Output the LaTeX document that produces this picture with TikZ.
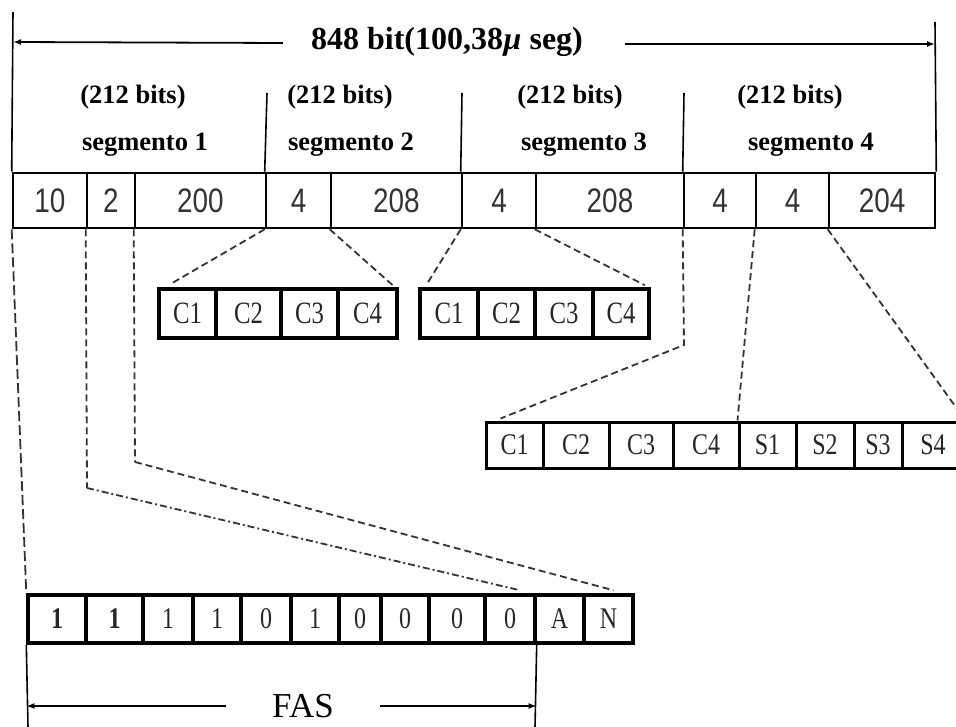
\documentclass[tikz,border=0pt]{standalone}
\usepackage{fontspec}
\setmainfont{Liberation Serif}
\newfontfamily\cellfont[FakeStretch=0.82]{Liberation Sans}
\newfontfamily\cfont[FakeStretch=0.8]{Liberation Serif}
\usetikzlibrary{arrows.meta,calc}
\newcommand\mkcell[6]{\node[#1, minimum width={(#4-#3)*1pt}] (#2) at ({(#3+#4)/2},#5) {#6};}
\begin{document}
\begin{tikzpicture}[x=1pt,y=-1pt,
  mrow/.style={draw, line width=2.6pt, minimum height=55pt, inner sep=0pt, font=\cellfont\fontsize{34}{34}\selectfont, text=black!80},
  cbox/.style={draw, line width=3.6pt, minimum height=49pt, inner sep=0pt, font=\cfont\fontsize{31}{31}\selectfont, text=black!85},
  drow/.style={draw, line width=3pt, minimum height=46pt, inner sep=0pt, font=\cfont\fontsize{30}{30}\selectfont, text=black!85},
  frow/.style={draw, line width=3.4pt, minimum height=48pt, inner sep=0pt, font=\cfont\fontsize{30}{30}\selectfont, text=black!85},
  lbl/.style={inner sep=0pt, font=\bfseries\fontsize{26.5}{26.5}\selectfont},
  thin/.style={line width=1.6pt},
  arr/.style={line width=1.8pt, -{Latex[length=8pt,width=6pt]}},
  dsh/.style={line width=1.8pt, dash pattern=on 7pt off 4pt, black!80},
  ddot/.style={line width=1.8pt, dash pattern=on 7pt off 3pt on 2pt off 3pt, black!80}]
\useasboundingbox (0,0) rectangle (956,727);

% main row
\mkcell{mrow}{m1}{13}{87}{200.5}{10}
\mkcell{mrow}{m2}{87}{135}{200.5}{2}
\mkcell{mrow}{m3}{135}{266}{200.5}{200}
\mkcell{mrow}{m4}{266}{331}{200.5}{4}
\mkcell{mrow}{m5}{331}{462}{200.5}{208}
\mkcell{mrow}{m6}{462}{536}{200.5}{4}
\mkcell{mrow}{m7}{536}{684}{200.5}{208}
\mkcell{mrow}{m8}{684}{756}{200.5}{4}
\mkcell{mrow}{m9}{756}{829}{200.5}{4}
\mkcell{mrow}{m10}{829}{935}{200.5}{204}

% top dimension
\coordinate (tl) at (13,12);
\coordinate (tr) at (935,22);
\draw[thin] (tl) -- (m1.north west);
\draw[thin] (tr) -- (m10.north east);
\node[inner sep=0pt, font=\bfseries\fontsize{32}{32}\selectfont] (title) at (447,42) {848 bit(100,38\textit{µ} seg)};
\draw[arr] ($(title.west)+(-28,1)$) -- (title.west -| tl) ;
\draw[arr] ($(title.east)+(42,2)$) -- ($(title.east -| tr)+(0,2)$);

% segment separators and labels
\coordinate (s1) at (267,93);
\coordinate (s2) at (462,93);
\coordinate (s3) at (684,93);
\draw[thin] (s1) -- (m4.north west);
\draw[thin] (s2) -- (m6.north west);
\draw[thin] (s3) -- (m8.north west);
\node[lbl] (b1) at (133,97) {(212 bits)};
\node[lbl] (b2) at (340,97) {(212 bits)};
\node[lbl] (b3) at (570,97) {(212 bits)};
\node[lbl] (b4) at (790,97) {(212 bits)};
\node[lbl] (g1) at (145,145) {segmento 1};
\node[lbl] (g2) at (351,145) {segmento 2};
\node[lbl] (g3) at (584,145) {segmento 3};
\node[lbl] (g4) at (811,145) {segmento 4};

% C boxes group A
\mkcell{cbox}{a1}{159}{216}{313.5}{C1}
\mkcell{cbox}{a2}{216}{281}{313.5}{C2}
\mkcell{cbox}{a3}{281}{338}{313.5}{C3}
\mkcell{cbox}{a4}{338}{397}{313.5}{C4}
% group B
\mkcell{cbox}{c1}{420}{478}{313.5}{C1}
\mkcell{cbox}{c2}{478}{535}{313.5}{C2}
\mkcell{cbox}{c3}{535}{593}{313.5}{C3}
\mkcell{cbox}{c4}{593}{649}{313.5}{C4}

\draw[dsh] (m4.south west) -- ($(a1.north west)+(13,-3)$);
\draw[dsh] (m5.south west) -- ($(a4.north east)+(-5,-1)$);
\draw[dsh] (m6.south west) -- ($(c1.north west)+(8,-2)$);
\draw[dsh] (m7.south west) -- ($(c4.north east)+(-6,-2)$);

% bottom right row
\mkcell{drow}{d1}{486}{543}{445}{C1}
\mkcell{drow}{d2}{543}{609}{445}{C2}
\mkcell{drow}{d3}{609}{673}{445}{C3}
\mkcell{drow}{d4}{673}{739}{445}{C4}
\mkcell{drow}{d5}{739}{796}{445}{S1}
\mkcell{drow}{d6}{796}{854}{445}{S2}
\mkcell{drow}{d7}{854}{902}{445}{S3}
\mkcell{drow}{d8}{902}{964}{445}{S4}

\coordinate (k1) at (684,345);
\draw[dsh] (m8.south west) -- (k1) -- ($(d1.north west)+(16,-2)$);
\draw[dsh] (m9.south west) -- (d5.north west);
\draw[dsh] (m10.south west) -- (d8.north east);

% FAS row
\mkcell{frow}{f1}{28}{86}{619}{\bfseries 1}
\mkcell{frow}{f2}{86}{143}{619}{\bfseries 1}
\mkcell{frow}{f3}{143}{193}{619}{1}
\mkcell{frow}{f4}{193}{241}{619}{1}
\mkcell{frow}{f5}{241}{291}{619}{0}
\mkcell{frow}{f6}{291}{339}{619}{1}
\mkcell{frow}{f7}{339}{381}{619}{0}
\mkcell{frow}{f8}{381}{429}{619}{0}
\mkcell{frow}{f9}{429}{485}{619}{0}
\mkcell{frow}{f10}{485}{535}{619}{0}
\mkcell{frow}{f11}{535}{584}{619}{A}
\mkcell{frow}{f12}{584}{633}{619}{N}

\draw[dsh, dash pattern=on 10pt off 4pt] (m1.south west) -- (f1.north west);
\coordinate (k2) at (87,488);
\coordinate (k3) at (135,462);
\draw[dsh] (m2.south west) -- (k2);
\draw[ddot] (k2) -- ($(f10.north)+(10,-3)$);
\draw[dsh] (m3.south west) -- (k3);
\draw[dsh] (k3) -- ($(f12.north)+(5,-3)$);

% FAS dimension
\coordinate (fb1) at (28,727);
\coordinate (fb2) at (535,727);
\draw[thin] (f1.south west) -- (fb1);
\draw[thin] (f10.south east) -- (fb2);
\node[inner xsep=46pt, inner ysep=0pt, font=\fontsize{35}{35}\selectfont] (fas) at (303,706) {FAS};
\draw[arr] (fas.west) -- (fas.west -| f1.south west);
\draw[arr] (fas.east) -- (fas.east -| f10.south east);
\end{tikzpicture}
\end{document}
